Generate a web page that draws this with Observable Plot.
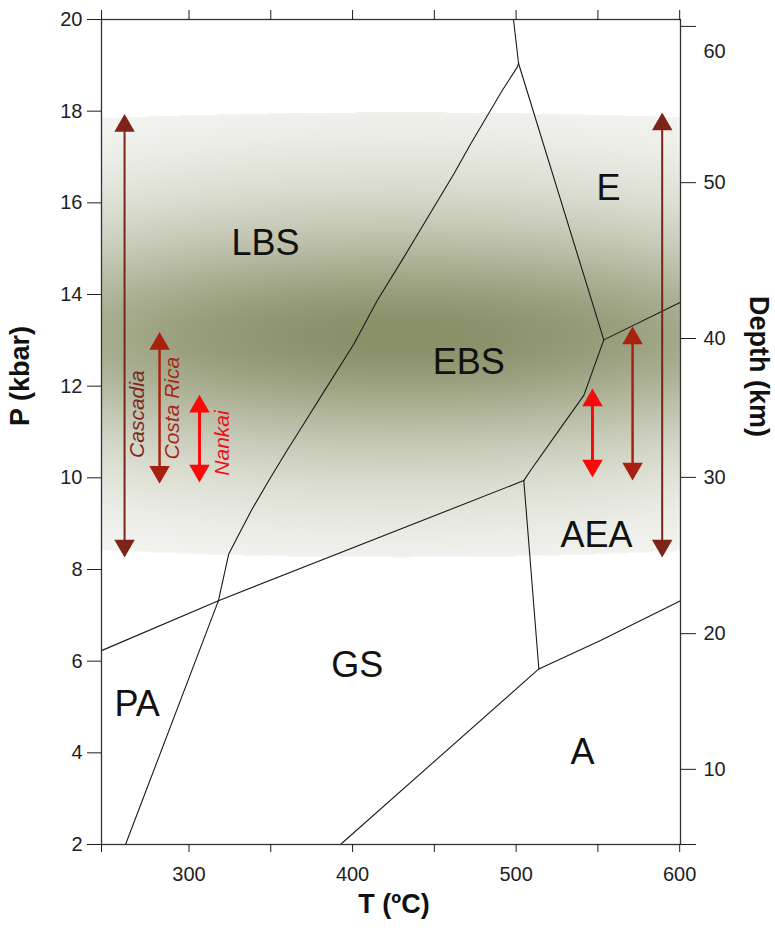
<!DOCTYPE html>
<html>
<head>
<meta charset="utf-8">
<script src="https://cdn.jsdelivr.net/npm/d3@7"></script>
<script src="https://cdn.jsdelivr.net/npm/@observablehq/plot@0.6"></script>
<style>
  body { margin: 0; background: #fff; }
  #chart { width: 775px; height: 933px; }
</style>
</head>
<body>
<div id="chart"></div>
<script>
// ---------- data ----------
const xDomain = [246.5, 600.5];          // T (ºC)
const yDomain = [2, 20];                 // P (kbar)
const xTicksMajor = [300, 400, 500, 600];
const xTicksMinor = [350, 450, 550];
const yTicks = [2, 4, 6, 8, 10, 12, 14, 16, 18, 20];
const depthTicks = [10, 20, 30, 40, 50, 60];               // km
const depthTickP = [3.64, 6.60, 10.01, 13.04, 16.44, 19.85]; // matching P (kbar)

// facies boundaries, [T, P]
const bPAGS    = [[246.5, 6.23], [318.0, 7.32]];
const bPAlow   = [[318.0, 7.32], [261.2, 2.0]];
const bLBSEBS  = [[318.0, 7.32], [324.3, 8.34], [329.5, 8.70], [338.6, 9.32], [348.8, 9.94],
                  [360.0, 10.60], [370.2, 11.18], [380.4, 11.76], [400.8, 12.92], [415.1, 13.87],
                  [431.3, 14.81], [461.9, 16.63], [472.1, 17.28], [491.5, 18.45], [500.7, 18.96], [501.5, 19.04]];
const bTop     = [[501.5, 19.04], [498.4, 20.0]];
const bEEBS    = [[501.5, 19.04], [553.6, 13.01]];
const bEBSAEA  = [[553.6, 13.01], [541.4, 11.80], [528.2, 11.14], [508.8, 10.16], [504.7, 9.94]];
const bEAEA    = [[553.6, 13.01], [600.5, 13.83]];
const bGSEBS   = [[318.0, 7.32], [504.7, 9.94]];
const bGSAEA   = [[504.7, 9.94], [513.9, 5.83]];
const bAEAA    = [[513.9, 5.83], [551.6, 6.45], [600.5, 7.32]];
const bGSA     = [[513.9, 5.83], [392.6, 2.0]];

// facies labels
const regionNames = ["LBS", "EBS", "E", "AEA", "GS", "PA", "A"];
const regionT = [346.8, 471.1, 556.5, 549.1, 402.8, 268.3, 540.6];
const regionP = [15.11, 12.52, 16.31, 8.74, 5.91, 5.05, 4.0];

// subduction-zone P ranges (arrows)
const arrowZone = ["Cascadia", "Costa Rica", "Nankai", "Nankai", "Costa Rica", "Cascadia"];
const arrowT = [260.6, 282.0, 306.4, 546.7, 571.2, 589.3];
const arrowPTop = [17.94, 13.18, 11.81, 11.95, 13.30, 17.97];
const arrowPBottom = [8.26, 9.87, 9.90, 10.01, 9.94, 8.26];

const zoneNames = ["Cascadia", "Costa Rica", "Nankai"];
const zoneLabelT = [268.6, 289.7, 320.3];
const zoneLabelP = [11.39, 11.52, 10.76];

// shaded blueschist band
const bandTopP = 17.97, bandBottomP = 8.27, bandCoreP = 13.1, bandCoreT = 430;

// ---------- styles ----------
const zoneArrowColor = {"Cascadia": "#7d2419", "Costa Rica": "#a8200f", "Nankai": "#f70a0a"};
const zoneTextColor = {"Cascadia": "#7a2a22", "Costa Rica": "#a8281a", "Nankai": "#ea121a"};
const zoneWidth = {"Cascadia": 2, "Costa Rica": 2.5, "Nankai": 3};
const font = "'Liberation Sans', Arial, Helvetica, sans-serif";

// ---------- build tables ----------
const boundaries = {bPAGS, bPAlow, bLBSEBS, bTop, bEEBS, bEBSAEA, bEAEA, bGSEBS, bGSAEA, bAEAA, bGSA};
const boundaryRows = Object.entries(boundaries).flatMap(([id, pts]) => pts.map(([T, P]) => ({id, T, P})));
const regionRows = regionNames.map((name, i) => ({name, T: regionT[i], P: regionP[i]}));
const arrowRows = arrowT.map((T, i) => ({zone: arrowZone[i], T, top: arrowPTop[i], bottom: arrowPBottom[i]}));
const zoneLabelRows = zoneNames.map((name, i) => ({name, T: zoneLabelT[i], P: zoneLabelP[i]}));

function shade(T, P) {
  const u = (T - bandCoreT) / 180;
  const top = bandTopP - 0.12 * u * u;
  const bottom = bandBottomP + 0.15 * u * u;
  if (P > top || P < bottom) return 0;
  const t = P >= bandCoreP ? (P - bandCoreP) / (top - bandCoreP) : (bandCoreP - P) / (bandCoreP - bottom);
  const s = t / 0.55;
  const v = (1 / (1 + s * s) - 0.12) / 0.88;
  const h = 1 - 0.25 * u * u;
  return Math.max(0, Math.min(1, v * h));
}

const zoneMarks = zoneNames.flatMap(z => {
  const rows = arrowRows.filter(d => d.zone === z);
  return [
    Plot.ruleX(rows, {x: "T", y1: "top", y2: "bottom", stroke: zoneArrowColor[z], strokeWidth: zoneWidth[z], insetTop: 12, insetBottom: 12}),
    Plot.dot(rows, {x: "T", y: "top", symbol: "triangle", r: 7.6, fill: zoneArrowColor[z], dy: 11.8}),
    Plot.dot(rows, {x: "T", y: "bottom", symbol: "triangle", r: 7.6, rotate: 180, fill: zoneArrowColor[z], dy: -11.8}),
    Plot.text(zoneLabelRows.filter(d => d.name === z), {x: "T", y: "P", text: "name", rotate: -90, fontSize: 21, fontStyle: "italic", fill: zoneTextColor[z]})
  ];
});

const depthLabel = d => {
  const i = depthTickP.indexOf(d);
  return i < 0 || depthTicks[i] === 60 ? "" : String(depthTicks[i]);
};

const chart = Plot.plot({
  width: 775,
  height: 933,
  marginLeft: 101,
  marginRight: 95,
  marginTop: 19,
  marginBottom: 89,
  x: {domain: xDomain},
  y: {domain: yDomain},
  color: {type: "linear", domain: [0, 1], range: ["#ffffff", "#899068"], interpolate: "rgb"},
  style: {fontFamily: font, color: "#1e1e1e", background: "#fff"},
  marks: [
    Plot.raster({x1: xDomain[0], x2: xDomain[1], y1: 8.15, y2: 18.0, fill: shade, pixelSize: 1}),
    Plot.line(boundaryRows, {x: "T", y: "P", z: "id", stroke: "#1a1a1a", strokeWidth: 1.1}),
    ...zoneMarks,
    Plot.text(regionRows, {x: "T", y: "P", text: "name", fontSize: 36, fill: "#111"}),
    Plot.frame({stroke: "#333", strokeWidth: 1.3}),
    // left P axis
    Plot.axisY(yTicks, {anchor: "left", tickSize: 14, tickPadding: 5, fontSize: 20, label: null}),
    // right depth axis
    Plot.axisY([...depthTickP, yDomain[0]], {anchor: "right", tickSize: 15, tickPadding: 8, fontSize: 20, label: null, tickFormat: depthLabel}),
    Plot.text([depthTicks[5]], {x: () => xDomain[1], y: () => depthTickP[5], text: d => String(d), dx: 23, dy: 25, textAnchor: "start", fontSize: 20}),
    // bottom & top T axes
    Plot.axisX(xTicksMajor, {anchor: "bottom", tickSize: 8, tickPadding: 14, fontSize: 20, label: null}),
    Plot.axisX([xDomain[0], ...xTicksMinor], {anchor: "bottom", tickSize: 8, tickFormat: () => "", label: null}),
    Plot.axisX([xDomain[0], ...xTicksMinor, ...xTicksMajor], {anchor: "top", tickSize: 10, tickFormat: () => "", label: null}),
    // axis titles
    Plot.text(["P (kbar)"], {frameAnchor: "left", dx: -81, dy: -6, rotate: -90, fontSize: 27, fontWeight: "bold", fill: "#111"}),
    Plot.text(["Depth (km)"], {frameAnchor: "right", dx: 78, dy: 5, rotate: 90, fontSize: 27, fontWeight: "bold", fill: "#111"}),
    Plot.text(["T (ºC)"], {frameAnchor: "bottom", dx: 3, dy: 68, fontSize: 27, fontWeight: "bold", fill: "#111"})
  ]
});

document.getElementById("chart").appendChild(chart);
</script>
</body>
</html>
